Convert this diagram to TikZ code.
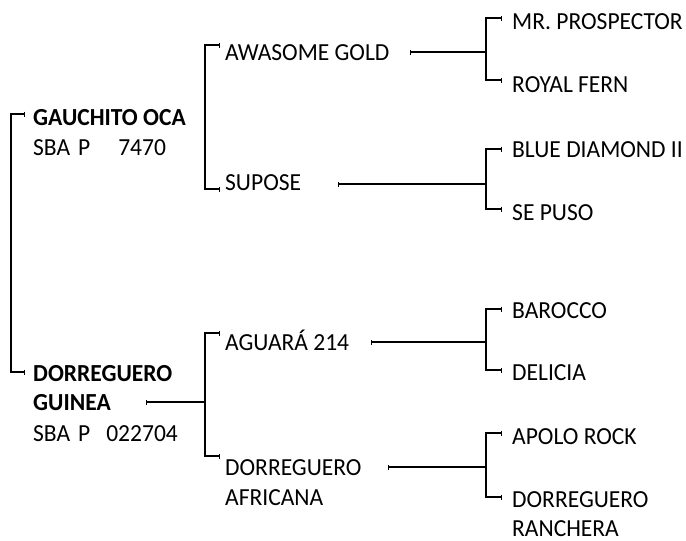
\documentclass[tikz,border=0pt]{standalone}
\usepackage{fontspec}
\setmainfont[FakeStretch=0.96]{Carlito}
\usetikzlibrary{arrows.meta}
\begin{document}
\begin{tikzpicture}[x=1pt,y=-1pt,
  lbl/.style={anchor=base west,inner sep=0pt,font=\fontsize{24.5}{28}\selectfont},
  blbl/.style={anchor=base west,inner sep=0pt,font=\fontsize{24.5}{28}\selectfont\bfseries},
  conn/.style={line width=1.2pt,black},
  bb/.style={{Bar[width=5pt]}-{Bar[width=5pt]}},
  lb/.style={{Bar[width=5pt]}-}
]
\useasboundingbox (0,0) rectangle (686,541);
% ---- labels ----
\node[blbl] (gau) at (33,125) {GAUCHITO OCA};
\node[lbl]  (gaureg) at (33,155) {SBA\hspace{8pt}P\hspace{28pt}7470};
\node[blbl] (dor1) at (33,381) {DORREGUERO};
\node[blbl] (dor2) at (33,410) {GUINEA};
\node[lbl]  (dorreg) at (33,441) {SBA\hspace{8pt}P\hspace{16pt}022704};

\node[lbl] (awa) at (225,60) {AWASOME GOLD};
\node[lbl] (sup) at (225,190) {SUPOSE};
\node[lbl] (agu) at (225,350) {AGUARÁ 214};
\node[lbl] (afr1) at (225,475) {DORREGUERO};
\node[lbl] (afr2) at (225,505) {AFRICANA};

\node[lbl] (mrp) at (512,29) {MR. PROSPECTOR};
\node[lbl] (roy) at (512,92) {ROYAL FERN};
\node[lbl] (blu) at (512,157) {BLUE DIAMOND II};
\node[lbl] (sep) at (512,220) {SE PUSO};
\node[lbl] (bar) at (512,318) {BAROCCO};
\node[lbl] (del) at (512,380) {DELICIA};
\node[lbl] (apo) at (512,444) {APOLO ROCK};
\node[lbl] (ran1) at (512,507) {DORREGUERO};
\node[lbl] (ran2) at (512,536) {RANCHERA};

% ---- connector end points ----
\coordinate (tgau) at (25,114);
\coordinate (tdor) at (25,372);
\coordinate (tawa) at (220,45);
\coordinate (tsup) at (220,189);
\coordinate (tagu) at (220,333);
\coordinate (tafr) at (220,456);
\coordinate (tmrp) at (502,18);
\coordinate (troy) at (502,80);
\coordinate (tblu) at (502,149);
\coordinate (tsep) at (502,209);
\coordinate (tbar) at (502,309);
\coordinate (tdel) at (502,370);
\coordinate (tapo) at (502,433);
\coordinate (tran) at (502,497);

\coordinate (sawa) at (410,52);
\coordinate (ssup) at (338,184);
\coordinate (sgui) at (146,402);
\coordinate (sagu) at (371,342);
\coordinate (safr) at (388,467);

\coordinate (vl) at (11,0);
\coordinate (vm) at (205,0);
\coordinate (vr) at (486,0);

% ---- brackets ----
\draw[conn,bb] (tgau) -- (tgau -| vl) -- (tdor -| vl) -- (tdor);
\draw[conn,bb] (tawa) -- (tawa -| vm) -- (tsup -| vm) -- (tsup);
\draw[conn,bb] (tagu) -- (tagu -| vm) -- (tafr -| vm) -- (tafr);
\draw[conn,bb] (tmrp) -- (tmrp -| vr) -- (troy -| vr) -- (troy);
\draw[conn,bb] (tblu) -- (tblu -| vr) -- (tsep -| vr) -- (tsep);
\draw[conn,bb] (tbar) -- (tbar -| vr) -- (tdel -| vr) -- (tdel);
\draw[conn,bb] (tapo) -- (tapo -| vr) -- (tran -| vr) -- (tran);

% ---- horizontal links ----
\draw[conn,lb] (sawa) -- (sawa -| vr);
\draw[conn,lb] (ssup) -- (ssup -| vr);
\draw[conn,lb] (sgui) -- (sgui -| vm);
\draw[conn,lb] (sagu) -- (sagu -| vr);
\draw[conn,lb] (safr) -- (safr -| vr);
\end{tikzpicture}
\end{document}
